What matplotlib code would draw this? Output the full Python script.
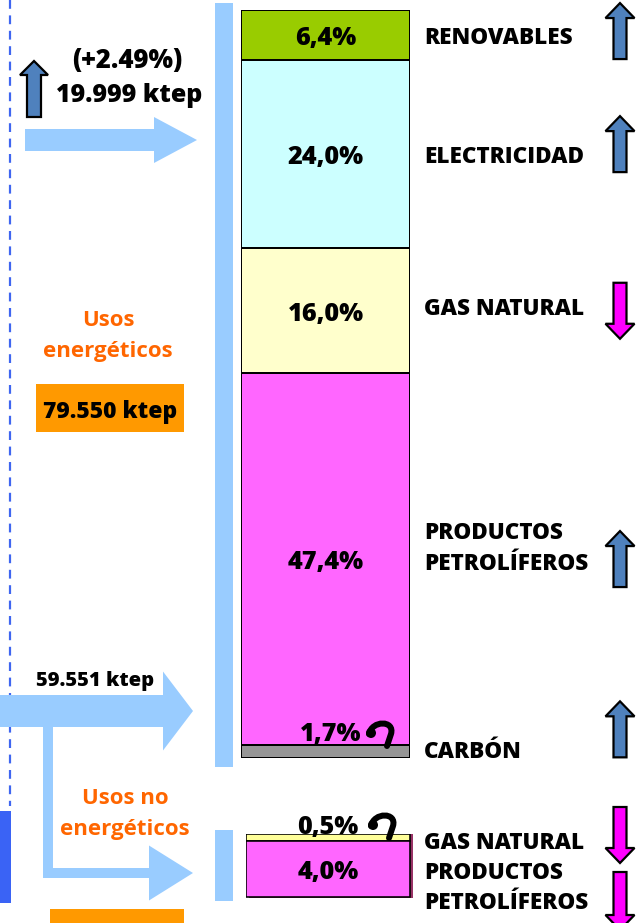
import numpy as np
import matplotlib
matplotlib.use("Agg")
import matplotlib.pyplot as plt
from matplotlib.patches import Polygon, Rectangle, PathPatch
from matplotlib.path import Path
from matplotlib.transforms import blended_transform_factory, offset_copy

# ---------------- data ----------------
energy_categories = ["RENOVABLES", "ELECTRICIDAD", "GAS NATURAL", "PRODUCTOS\nPETROLÍFEROS", "CARBÓN"]
energy_shares = [6.4, 24.0, 16.0, 47.4, 1.7]
energy_trend = ["up", "up", "down", "up", "up"]
energy_colors = ["#99cc00", "#ccffff", "#ffffcc", "#ff66ff", "#969696"]

non_energy_categories = ["GAS NATURAL", "PRODUCTOS\nPETROLÍFEROS"]
non_energy_shares = [0.5, 4.0]
non_energy_trend = ["down", "down"]
non_energy_colors = ["#ffff99", "#ff66ff"]

energy_total = "79.550 ktep"
flow_total = "59.551 ktep"
non_energy_total = "19.999 ktep"
non_energy_change = "(+2.49%)"

# ---------------- layout ----------------
W, H = 644, 923
FONT = ["Open Sans", "DejaVu Sans"]
plt.rcParams["font.family"] = FONT
LIGHT = "#99ccff"
ORANGE_TXT = "#ff6600"
ORANGE_BOX = "#ff9900"
UP_C = "#4f81bd"
DOWN_C = "#ff00ff"
px = 72 / 100  # points per pixel
FS_LAB = 16.2
FS_PCT = 18.2
LS = 1.4
WT = "heavy"

fig = plt.figure(figsize=(W / 100, H / 100), dpi=100)
fig.patch.set_facecolor("white")

bg = fig.add_axes([0, 0, 1, 1])
bg.set_xlim(0, W)
bg.set_ylim(H, 0)
bg.axis("off")
tbg = offset_copy(bg.transData, fig=fig, y=-3, units="dots")


def fig_rect(x0, y0, x1, y1):
    return [x0 / W, (H - y1) / H, (x1 - x0) / W, (y1 - y0) / H]


def h_arrow(ax, x0, x1, yc, shaft, head_w, head_len, color):
    xs = x1 - head_len
    pts = [(x0, yc - shaft / 2), (xs, yc - shaft / 2), (xs, yc - head_w / 2), (x1, yc),
           (xs, yc + head_w / 2), (xs, yc + shaft / 2), (x0, yc + shaft / 2)]
    ax.add_patch(Polygon(pts, closed=True, fc=color, ec="none", zorder=2))


def v_arrow(ax, xc, y0, y1, direction, color, width=29, shaft=13, head_len=15):
    if direction == "up":
        tip, base = y0, y1
        hs = y0 + head_len
    else:
        tip, base = y1, y0
        hs = y1 - head_len
    pts = [(xc - shaft / 2, base), (xc - shaft / 2, hs), (xc - width / 2, hs), (xc, tip),
           (xc + width / 2, hs), (xc + shaft / 2, hs), (xc + shaft / 2, base)]
    ax.add_patch(Polygon(pts, closed=True, fc=color, ec="black", lw=1.6, zorder=4,
                         joinstyle="miter"))


# dashed line and blue block on far left
bg.plot([10, 10], [0, 806], ls=(0, (4, 3)), color="#3f66f0", lw=2.2 * px, zorder=1)
bg.add_patch(Rectangle((0, 811), 11, 92, fc="#3a63f5", ec="none", zorder=1))

# light blue vertical bars
bg.add_patch(Rectangle((215, 3), 18, 764, fc=LIGHT, ec="none", zorder=1))
bg.add_patch(Rectangle((215, 830), 18, 71, fc=LIGHT, ec="none", zorder=1))

# big flow arrows
h_arrow(bg, 25, 197, 140, 22, 46, 43, LIGHT)
h_arrow(bg, 0, 193, 711, 32, 79, 30, LIGHT)
bg.add_patch(Rectangle((43, 727), 10, 151, fc=LIGHT, ec="none", zorder=2))
h_arrow(bg, 43, 193, 873, 10, 55, 44, LIGHT)

# small dark arrow for non-energy change
v_arrow(bg, 34, 61, 117, "up", UP_C, width=28, shaft=14, head_len=14)

# left texts
bg.text(127, 58, non_energy_change, ha="center", va="center", fontsize=18.5,
        fontweight=WT, color="black", transform=tbg)
bg.text(129, 93, non_energy_total, ha="center", va="center", fontsize=18,
        fontweight=WT, color="black", transform=tbg)
bg.text(108, 317, "Usos", ha="center", va="center", fontsize=16, fontweight="bold",
        color=ORANGE_TXT, transform=tbg)
bg.text(108, 348, "energéticos", ha="center", va="center", fontsize=16,
        fontweight="bold", color=ORANGE_TXT, transform=tbg)
bg.add_patch(Rectangle((36, 384), 148, 48, fc=ORANGE_BOX, ec="none", zorder=2))
bg.text(110, 409, energy_total, ha="center", va="center", fontsize=16.5,
        fontweight=WT, color="black", zorder=3, transform=tbg)
bg.text(95, 678, flow_total, ha="center", va="center", fontsize=14.5,
        fontweight=WT, color="black", zorder=3, transform=tbg)
bg.text(125, 795, "Usos no", ha="center", va="center", fontsize=16, fontweight="bold",
        color=ORANGE_TXT, zorder=3, transform=tbg)
bg.text(125, 826, "energéticos", ha="center", va="center", fontsize=16,
        fontweight="bold", color=ORANGE_TXT, zorder=3, transform=tbg)
bg.add_patch(Rectangle((50, 909), 134, 20, fc=ORANGE_BOX, ec="none", zorder=2))

# ---------------- main stacked bar (energy uses) ----------------
ax1 = fig.add_axes(fig_rect(241, 10, 410, 758))
ax1.set_facecolor("none")
tot1 = sum(energy_shares)
bottoms1 = np.concatenate([[0], np.cumsum(energy_shares)[:-1]])
ax1.bar([0] * len(energy_shares), energy_shares, bottom=bottoms1, width=1.0,
        color=energy_colors, edgecolor="black", linewidth=2 * px, align="center")
ax1.set_xlim(-0.5, 0.5)
ax1.set_ylim(tot1, 0)
ax1.axis("off")
t1 = offset_copy(ax1.transData, fig=fig, y=-3.5, units="dots")

lab1 = blended_transform_factory(bg.transData, ax1.transData)
tlab1 = offset_copy(lab1, fig=fig, y=-3, units="dots")
label_dy = [0, 0, -0.6, -1.7, -0.3]
arrow_dy = [-4, -10, 0, 0, -22]
for i, (cat, s, b, tr) in enumerate(zip(energy_categories, energy_shares, bottoms1, energy_trend)):
    yc = b + s / 2
    txt = f"{s:.1f}".replace(".", ",") + "%"
    if s >= 3:
        ax1.text(0, yc, txt, ha="center", va="center", transform=t1,
                 fontsize=FS_PCT, fontweight=WT, color="black")
    else:
        ax1.text(0.03, b - 1.75, txt, ha="center", transform=t1,
                 va="center", fontsize=FS_PCT, fontweight=WT, color="black")
    ax1.text(424, yc + label_dy[i], cat, transform=tlab1, ha="left", va="center",
             fontsize=FS_LAB, fontweight=WT, color="black", linespacing=LS)

# ---------------- small stacked bar (non-energy uses) ----------------
ax2 = fig.add_axes(fig_rect(246, 834, 413, 898))
ax2.set_facecolor("none")
tot2 = sum(non_energy_shares)
bottoms2 = np.concatenate([[0], np.cumsum(non_energy_shares)[:-1]])
ax2.bar([0.02] * len(non_energy_shares), non_energy_shares, bottom=bottoms2 + 0.02,
        width=1.0, color="#993366", edgecolor="none", zorder=1)
ax2.bar([0] * len(non_energy_shares), non_energy_shares, bottom=bottoms2, width=1.0,
        color=non_energy_colors, edgecolor="black", linewidth=1.6 * px, zorder=2)
ax2.set_xlim(-0.5, 0.52)
ax2.set_ylim(tot2 + 0.05, 0)
ax2.axis("off")
t2 = offset_copy(ax2.transData, fig=fig, y=-3.5, units="dots")
for i, (cat, s, b) in enumerate(zip(non_energy_categories, non_energy_shares, bottoms2)):
    yc = b + s / 2
    txt = f"{s:.1f}".replace(".", ",") + "%"
    if s >= 3:
        ax2.text(0, yc, txt, ha="center", va="center", fontsize=FS_PCT, fontweight=WT,
                 color="black", zorder=5, transform=t2)
    else:
        ax2.text(0.0, b - 0.7, txt, ha="center", va="center", fontsize=FS_PCT,
                 fontweight=WT, color="black", zorder=5, transform=t2)

bg.text(424, 840, non_energy_categories[0], ha="left", va="center", fontsize=FS_LAB,
        fontweight=WT, color="black", transform=tbg)
bg.text(424, 885, non_energy_categories[1], ha="left", va="center", fontsize=FS_LAB,
        fontweight=WT, color="black", linespacing=1.32, transform=tbg)

# ---------------- trend arrows on the right ----------------
top = fig.add_axes([0, 0, 1, 1])
top.set_xlim(0, W)
top.set_ylim(H, 0)
top.axis("off")
top.set_facecolor("none")

for i, (s, b, tr) in enumerate(zip(energy_shares, bottoms1, energy_trend)):
    yc_px = lab1.transform((0, b + s / 2))
    yc_px = bg.transData.inverted().transform(yc_px)[1] + arrow_dy[i]
    v_arrow(top, 620, yc_px - 28, yc_px + 28, tr, UP_C if tr == "up" else DOWN_C)

v_arrow(top, 620, 807, 863, non_energy_trend[0], DOWN_C)
v_arrow(top, 620, 872, 930, non_energy_trend[1], DOWN_C)


# curly arrows
def curl(ax, x, y):
    verts = [(x + 1, y + 10), (x + 4, y - 4), (x + 27, y - 4), (x + 23, y + 10), (x + 19, y + 22)]
    codes = [Path.MOVETO, Path.CURVE4, Path.CURVE4, Path.CURVE4, Path.LINETO]
    ax.add_patch(PathPatch(Path(verts, codes), fc="none", ec="black", lw=6 * px,
                           capstyle="round", zorder=6))
    ax.add_patch(plt.Circle((x + 3, y + 9), 5, fc="black", ec="none", zorder=6))


curl(top, 368, 724)
curl(top, 370, 816)

fig.savefig("out.png", dpi=100, facecolor="white")
